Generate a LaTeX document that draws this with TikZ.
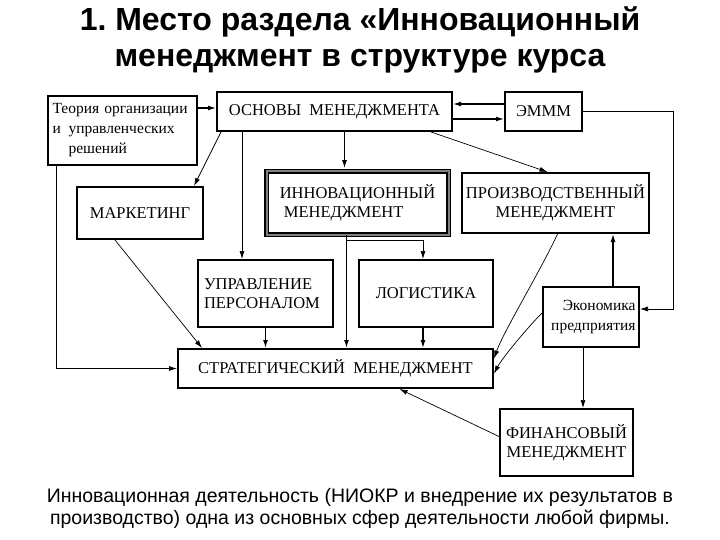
\documentclass[tikz,border=0pt]{standalone}
\usepackage{fontspec}
\setmainfont{Liberation Serif}
\newfontfamily\headfont{Liberation Sans}
\usepackage{tikz}
\usetikzlibrary{arrows,arrows.meta}
\usetikzlibrary{shapes,positioning,calc}

\begin{document}
\begin{tikzpicture}[x=1pt, y=-1pt, >={Latex[length=8pt,width=5pt]},
	box/.style={draw, line width=2pt, inner sep=0pt, font=\fontsize{16.5}{19}\selectfont},
	small box/.style={box, font=\fontsize{15.5}{20}\selectfont},
	thin line/.style={line width=0.7pt},
	main line/.style={line width=1.3pt}]
			\useasboundingbox (0,0) rectangle (720,540);
			\node[font=\headfont\bfseries\fontsize{32}{36}\selectfont\frenchspacing, align=center] (title) at (360,40) {1. Место раздела «Инновационный\\менеджмент в структуре курса};
			\node[small box, minimum width=149pt, minimum height=69pt, text width=140pt, align=left] (teoria) at (122.5,130.5) {Теория организации\\и\enspace управленческих\\\hphantom{и\enspace}решений};
			\node[box, minimum width=235pt, minimum height=39pt] (osnovy) at (334.5,111.5) {ОСНОВЫ\ \ МЕНЕДЖМЕНТА};
			\node[box, minimum width=77pt, minimum height=39pt] (emmm) at (543.5,111.5) {ЭМММ};
			\node[box, minimum width=126pt, minimum height=52pt] (marketing) at (140,213) {МАРКЕТИНГ};
			\node[box, double=gray, double distance=2pt, line width=1.5pt, minimum width=182pt, minimum height=63pt, align=left] (innov) at (357.5,203) {ИННОВАЦИОННЫЙ\\\ МЕНЕДЖМЕНТ};
			\node[box, minimum width=187pt, minimum height=60pt, align=center] (proizv) at (555.5,203) {ПРОИЗВОДСТВЕННЫЙ\\МЕНЕДЖМЕНТ};
			\node[box, minimum width=135pt, minimum height=67pt, text width=123pt, align=left] (upravl) at (265.5,293.5) {УПРАВЛЕНИЕ\\ПЕРСОНАЛОМ};
			\node[box, minimum width=134pt, minimum height=67pt] (logist) at (426,293.5) {ЛОГИСТИКА};
			\node[small box, minimum width=96pt, minimum height=60pt, text width=89pt, align=right] (ekon) at (591,317) {Экономика\\предприятия};
			\node[box, minimum width=315pt, minimum height=39pt] (strat) at (335.5,368.5) {СТРАТЕГИЧЕСКИЙ\ \ МЕНЕДЖМЕНТ};
			\node[box, minimum width=133pt, minimum height=67pt, align=center] (finans) at (566.5,442.5) {ФИНАНСОВЫЙ\\МЕНЕДЖМЕНТ};
			\node[font=\headfont\fontsize{19.5}{22}\selectfont, align=center] (caption) at (360,508) {Инновационная деятельность (НИОКР и внедрение их результатов в\\производство) одна из основных сфер деятельности любой фирмы.};
			\draw[main line, ->] ([yshift=-13pt]teoria.north east) coordinate (t1) -- (t1 -| osnovy.west);
			\draw[main line, ->] ([yshift=-13pt]emmm.north west) coordinate (m1) -- (m1 -| osnovy.east);
			\draw[main line, ->] ([yshift=13pt]osnovy.south east) coordinate (o1) -- (o1 -| emmm.west);
			\draw[thin line, ->] (emmm.east) -- ++(90,0) |- ([yshift=8pt]ekon.east);
			\draw[thin line, ->] ([xshift=5pt]osnovy.south west) -- ([xshift=-10pt]marketing.north east);
			\draw[thin line, ->] ([xshift=26pt]osnovy.south west) coordinate (o2) -- (o2 |- upravl.north);
			\draw[main line, ->, shorten >=2.5pt] ([xshift=10pt]osnovy.south) coordinate (o3) -- (o3 |- innov.north);
			\draw[thin line, ->] ([xshift=-22pt]osnovy.south east) -- ([xshift=-8pt]proizv.north);
			\draw[main line, ->] ([xshift=-11pt]innov.south) coordinate (i1) -- (i1 |- strat.north);
			\draw[thin line, ->] ([yshift=-5pt]i1) -| ([xshift=-3pt]logist.north);
			\draw[main line, ->] (upravl.south) -- (upravl.south |- strat.north);
			\draw[main line, ->] ([xshift=-3pt]logist.south) coordinate (l1) -- (l1 |- strat.north);
			\draw[thin line, ->] ([xshift=9pt]teoria.south west) |- (strat.west);
			\draw[thin line, ->] ([xshift=-25pt]marketing.south) -- ([xshift=25pt]strat.north west);
			\draw[thin line, ->] ([xshift=2pt]proizv.south) .. controls +(-17,37) and +(10,-28) .. ([yshift=10pt]strat.east);
			\draw[thin line, ->] ([yshift=4pt]ekon.west) .. controls +(-15,15) and +(8,-15) .. ([yshift=-5pt]strat.east);
			\draw[main line, ->] ([xshift=22pt]ekon.north) coordinate (e1) -- (e1 |- proizv.south);
			\draw[thin line, ->] ([xshift=-8pt]ekon.south) coordinate (e2) -- (e2 |- finans.north);
			\draw[thin line, ->] ([yshift=6pt]finans.west) -- ([xshift=64pt]strat.south);
			\end{tikzpicture}
\end{document}
